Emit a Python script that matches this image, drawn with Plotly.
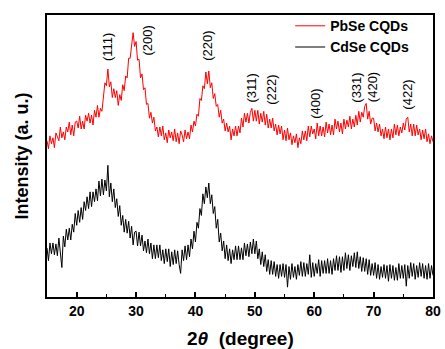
import plotly.graph_objects as go

# 2-theta sampling grid (degrees), 0.25 degree steps from 15 to 80
two_theta = [15 + 0.25 * i for i in range(261)]

# PbSe CQDs intensity (a.u.) (noisy trace)
pbse = [
    159, 151, 164, 156,  162, 152, 167, 162,  159, 173, 162, 168,  160, 173, 168, 178,
    165, 175, 164, 178,  179, 172, 184, 171,  179, 171, 185, 179,  187, 177, 185, 175,
    190, 183, 195, 183,  192, 189, 205, 218,  215, 232, 214, 219,  203, 212, 203, 210,
    195, 206, 200, 216,  210, 225, 223, 243,  243, 259, 269, 255,  260, 241, 242, 223,
    227, 211, 213, 196,  197, 182, 188, 177,  183, 169, 173, 163,  173, 164, 174, 160,
    167, 157, 170, 162,  168, 159, 171, 158,  167, 156, 169, 165,  158, 170, 161, 168,
    161, 175, 168, 179,  174, 186, 184, 202,  200, 215, 212, 229,  217, 230, 213, 218,
    202, 207, 194, 196,  183, 190, 177, 181,  169, 177, 168, 174,  160, 171, 164, 174,
    164, 174, 167, 182,  173, 187, 178, 187,  177, 188, 192, 179,  190, 179, 190, 176,
    187, 178, 189, 175,  186, 172, 181, 172,  182, 169, 176, 165,  175, 166, 174, 160,
    170, 159, 172, 160,  167, 155, 164, 157,  166, 152, 162, 156,  169, 160, 169, 159,
    174, 163, 174, 166,  171, 161, 177, 164,  174, 164, 173, 163,  178, 167, 176, 165,
    175, 165, 181, 171,  179, 168, 177, 166,  181, 171, 180, 173,  184, 171, 181, 173,
    185, 175, 189, 178,  188, 183, 194, 197,  181, 189, 176, 182,  182, 169, 177, 168,
    176, 164, 171, 161,  173, 162, 171, 160,  171, 162, 176, 165,  175, 164, 173, 167,
    177, 170, 181, 183,  168, 176, 164, 176,  164, 175, 165, 171,  160, 170, 161, 171,
    158, 166, 156, 164,  158,
]

# CdSe CQDs intensity (a.u.) (noisy trace)
cdse = [
    50, 37, 55, 44,  55, 43, 54, 42,  60, 48, 30, 62,  51, 69, 58, 70,
    58, 74, 66, 85,  73, 88, 76, 91,  79, 97, 88, 102,  90, 107, 92, 107,
    97, 110, 98, 118,  103, 120, 104, 119,  108, 134, 102, 116,  97, 110, 91, 100,
    82, 93, 73, 83,  66, 79, 65, 77,  60, 72, 53, 66,  67, 52, 66, 52,
    63, 47, 57, 45,  59, 44, 55, 39,  53, 39, 53, 40,  53, 37, 48, 34,
    49, 36, 49, 31,  46, 33, 48, 34,  47, 33, 24, 48,  37, 52, 38, 53,
    41, 59, 49, 67,  56, 76, 70, 90,  83, 105, 95, 112,  101, 116, 95, 104,
    85, 92, 70, 79,  56, 65, 47, 57,  39, 53, 37, 49,  34, 48, 38, 52,
    38, 52, 38, 50,  38, 55, 42, 54,  41, 56, 44, 59,  44, 57, 39, 49,
    33, 46, 31, 43,  26, 38, 23, 37,  23, 36, 21, 33,  19, 33, 21, 34,
    20, 33, 10, 31,  18, 34, 20, 31,  18, 33, 22, 36,  21, 35, 21, 34,
    23, 43, 20, 35,  21, 34, 24, 38,  21, 37, 24, 37,  24, 39, 24, 37,
    23, 39, 27, 42,  27, 41, 25, 41,  27, 45, 29, 43,  27, 42, 31, 45,
    30, 46, 29, 41,  26, 40, 26, 39,  23, 38, 22, 34,  22, 35, 19, 33,
    18, 31, 20, 33,  19, 32, 16, 33,  19, 32, 17, 30,  17, 34, 19, 32,
    19, 33, 11, 32,  19, 35, 21, 34,  18, 32, 20, 35,  21, 34, 19, 32,
    18, 34, 19, 32,  22,
]

series_names = ["PbSe CQDs", "CdSe CQDs"]
series_colors = ["#FF0000", "#000000"]

# Miller index labels
peak_labels = ["(111)", "(200)", "(220)", "(311)", "(222)", "(400)", "(331)", "(420)", "(422)"]
peak_x = [25.2, 32.0, 42.0, 49.5, 52.9, 60.2, 67.2, 69.8, 75.8]
peak_y = [254, 261, 256, 213, 211, 197, 213, 214, 206]

x_ticks = [20, 30, 40, 50, 60, 70, 80]
x_title = "2<i>θ</i>  (degree)"
y_title = "Intensity (a. u.)"

FONT = "Liberation Sans, Arial, sans-serif"

fig = go.Figure()
for name, ys, col in zip(series_names, [pbse, cdse], series_colors):
    fig.add_trace(go.Scatter(x=two_theta, y=ys, mode="lines", name=name,
                             line=dict(color=col, width=1)))

for lab, px, py in zip(peak_labels, peak_x, peak_y):
    fig.add_annotation(x=px, y=py, text=lab, showarrow=False, textangle=-90,
                       font=dict(family=FONT, size=13, color="black"),
                       xanchor="center", yanchor="middle")

# x-axis title placed as paper annotation below the tick labels
fig.add_annotation(x=0.5, y=-0.146, xref="paper", yref="paper", text=x_title,
                   showarrow=False, xanchor="center", yanchor="middle",
                   font=dict(family=FONT, size=19, color="black", weight="bold"))

fig.update_layout(
    width=445, height=349,
    margin=dict(l=47, r=10, t=10, b=52),
    paper_bgcolor="white", plot_bgcolor="white",
    font=dict(family=FONT, color="black"),
    showlegend=True,
    legend=dict(x=0.63, y=1.017, xanchor="left", yanchor="top",
                bgcolor="rgba(0,0,0,0)", itemwidth=30,
                font=dict(family=FONT, size=14, color="black", weight="bold"),
                tracegroupgap=0),
    xaxis=dict(range=[15, 80], tickvals=x_ticks, ticks="inside", ticklen=5,
               tickwidth=1.5, tickcolor="black",
               minor=dict(dtick=5, tick0=15, ticks="inside", ticklen=3, tickwidth=1.2, tickcolor="black"),
               showline=True, linecolor="black", linewidth=1.8, mirror=True,
               showgrid=False, zeroline=False, automargin=False,
               tickfont=dict(family=FONT, size=14, weight="bold")),
    yaxis=dict(range=[0, 287], showticklabels=False, ticks="",
               showline=True, linecolor="black", linewidth=1.8, mirror=True,
               showgrid=False, zeroline=False,
               title=dict(text=y_title, standoff=12,
                          font=dict(family=FONT, size=18, weight="bold"))),
)

fig.write_html("out.html")
